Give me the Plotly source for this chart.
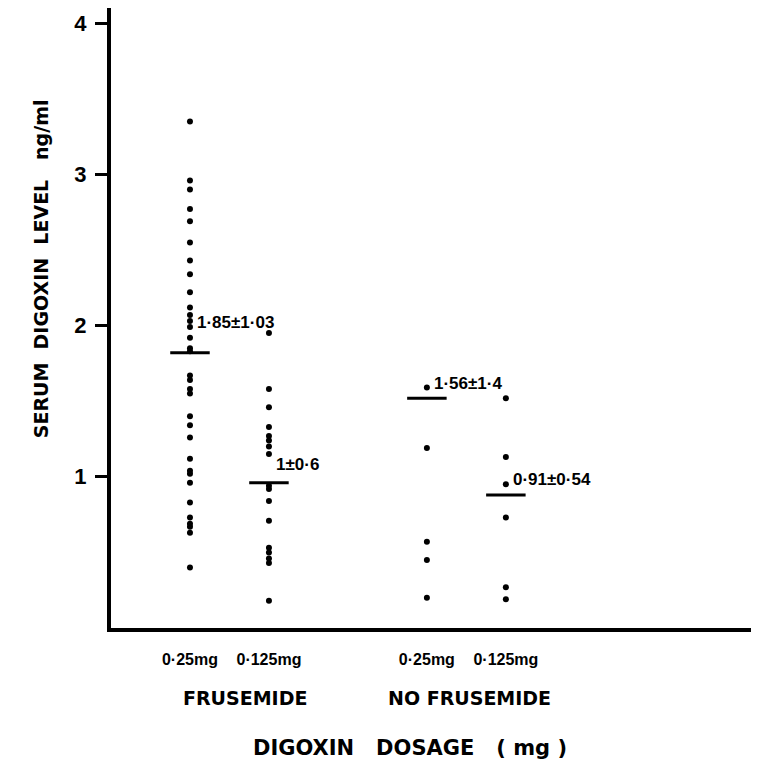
import plotly.graph_objects as go

# Data
positions = [1, 2, 4, 5]
tick_labels = ["0·25mg", "0·125mg", "0·25mg", "0·125mg"]
group_labels = ["FRUSEMIDE", "NO FRUSEMIDE"]

frus_025 = [3.35, 2.96, 2.90, 2.77, 2.69, 2.55, 2.43, 2.34, 2.22, 2.12, 2.07, 2.03,
            1.99, 1.92, 1.85, 1.83, 1.67, 1.64, 1.58, 1.55, 1.40, 1.34, 1.26, 1.12,
            1.04, 1.02, 0.96, 0.83, 0.73, 0.69, 0.67, 0.63, 0.40]
frus_0125 = [1.95, 1.58, 1.46, 1.33, 1.27, 1.24, 1.20, 1.15, 0.94, 0.92, 0.84, 0.71,
             0.53, 0.50, 0.46, 0.43, 0.18]
nofrus_025 = [1.59, 1.19, 0.57, 0.45, 0.20]
nofrus_0125 = [1.52, 1.13, 0.95, 0.73, 0.27, 0.19]
series = [frus_025, frus_0125, nofrus_025, nofrus_0125]

mean_lines = [1.82, 0.96, 1.52, 0.88]
stat_labels = ["1·85±1·03", "1±0·6", "1·56±1·4", "0·91±0·54"]
label_y = [2.02, 1.08, 1.62, 0.98]

FONT = "Liberation Sans, Arial, sans-serif"
WIDE = "DejaVu Sans, sans-serif"

fig = go.Figure()
for pos, vals in zip(positions, series):
    fig.add_trace(go.Scatter(
        x=[pos] * len(vals), y=vals, mode="markers",
        marker=dict(color="black", size=6), showlegend=False, hoverinfo="y"))

for pos, m in zip(positions, mean_lines):
    fig.add_trace(go.Scatter(
        x=[pos - 0.25, pos + 0.25], y=[m, m], mode="lines",
        line=dict(color="black", width=3), showlegend=False, hoverinfo="skip"))

annotations = []
for pos, txt, ly in zip(positions, stat_labels, label_y):
    annotations.append(dict(x=pos + 0.06, y=ly, xref="x", yref="y", text="<b>" + txt + "</b>",
                            showarrow=False, xanchor="left", yanchor="middle",
                            font=dict(family=FONT, size=17, color="black")))

group_x = [1.70, 4.54]
for gx, gl in zip(group_x, group_labels):
    annotations.append(dict(x=gx, y=-0.113, xref="x", yref="paper", text="<b>" + gl + "</b>",
                            showarrow=False, xanchor="center", yanchor="middle",
                            font=dict(family=WIDE, size=19, color="black")))

annotations.append(dict(x=3.78, y=-0.193, xref="x", yref="paper",
                        text="<b>DIGOXIN   DOSAGE   ( mg )</b>", showarrow=False,
                        xanchor="center", yanchor="middle",
                        font=dict(family=WIDE, size=21, color="black")))
annotations.append(dict(x=-0.107, y=0.58, xref="paper", yref="paper",
                        text="<b>SERUM  DIGOXIN  LEVEL   ng/ml</b>", showarrow=False,
                        textangle=-90, xanchor="center", yanchor="middle",
                        font=dict(family=WIDE, size=19, color="black")))

fig.update_layout(
    width=759, height=765,
    margin=dict(l=103, r=10, t=0, b=145),
    paper_bgcolor="white", plot_bgcolor="white",
    annotations=annotations,
    xaxis=dict(range=[0, 8.18], tickmode="array", tickvals=positions,
               ticktext=["<b>" + t + "</b>" for t in tick_labels],
               ticks="", showgrid=False, zeroline=False,
               showline=True, linecolor="black", linewidth=4,
               tickfont=dict(family=FONT, size=16, color="black")),
    yaxis=dict(range=[0, 4.1], tickmode="array", tickvals=[1, 2, 3, 4],
               ticktext=["<b>1</b>", "<b>2</b>", "<b>3</b>", "<b>4</b>"],
               ticks="outside", ticklen=12, tickwidth=3, tickcolor="black",
               showgrid=False, zeroline=False,
               showline=True, linecolor="black", linewidth=4,
               tickfont=dict(family=FONT, size=22, color="black")),
)
fig.update_xaxes(ticklabelstandoff=14)
fig.update_yaxes(ticklabelstandoff=4)

fig.write_html("out.html")
